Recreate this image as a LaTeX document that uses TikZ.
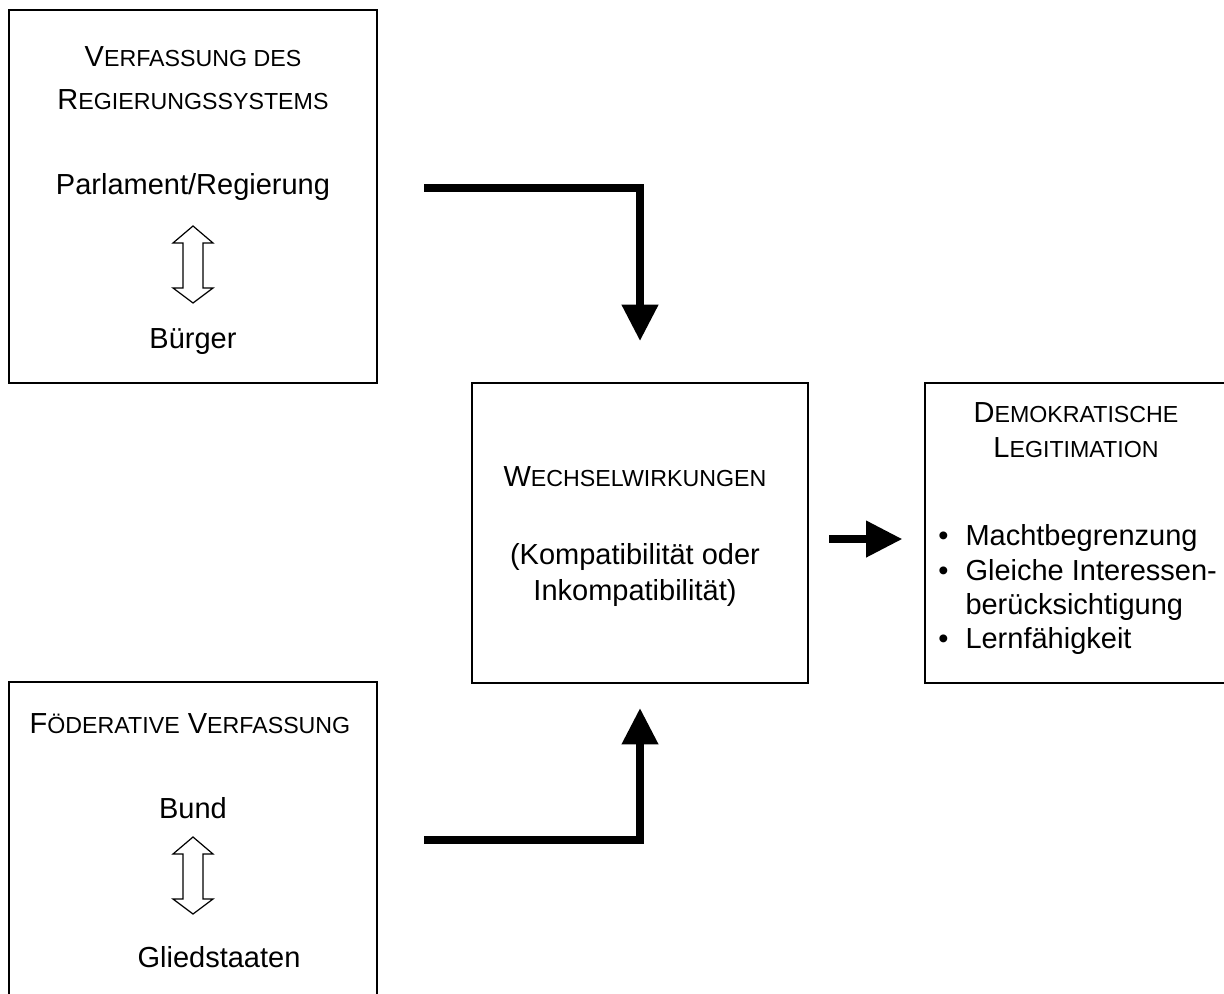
\documentclass[tikz,border=0pt]{standalone}
\usepackage{fontspec}
\setmainfont{Liberation Sans}
\usepackage{tikz}
\usetikzlibrary{arrows.meta, positioning}
\newcommand{\pix}{*0.4138pt}
\newcommand{\kap}[2]{#1{\fontsize{9.6pt}{11pt}\selectfont #2}}

\begin{document}
\begin{tikzpicture}[
    x=0.4138pt, y=-0.4138pt,
    box/.style={draw, line width=0.8pt, inner sep=0pt, minimum width=#1},
    txt/.style={anchor=base, inner sep=0pt, font=\fontsize{12pt}{14pt}\selectfont},
    flow/.style={line width=3pt, -{Triangle[length=15pt, width=14.5pt]}},
    hohl/.style={draw, line width=0.5pt, fill=white},
    doppelpfeil/.pic={
        \path[hohl] (0,0) -- (20,17) -- (10,17) -- (10,62) -- (20,62) -- (0,77)
            -- (-20,62) -- (-10,62) -- (-10,17) -- (-20,17) -- cycle;
    }
]
    \useasboundingbox (0,0) rectangle (1224,994);
    \clip (0,0) rectangle (1224,994);

    % Kästen
    \node[box=368\pix, minimum height=373\pix] (regierung) at (193,196.5) {};
    \node[box=368\pix, minimum height=380\pix] (foederal) at (193,872) {};
    \node[box=336\pix, minimum height=300\pix] (zentrum) at (640,533) {};
    \node[box=303\pix, minimum height=300\pix] (legit) at (1076.5,533) {};

    % Regierungssystem
    \node[txt] (r1) at (193,67) {\kap{V}{ERFASSUNG DES}};
    \node[txt] (r2) at (193,110) {\kap{R}{EGIERUNGSSYSTEMS}};
    \node[txt] (parl) at (193,195) {Parlament/Regierung};
    \pic at (193,226) {doppelpfeil};
    \node[txt] (buerger) at (193,349) {Bürger};

    % Föderative Verfassung
    \node[txt] (f1) at (190,733) {\kap{F}{ÖDERATIVE} \kap{V}{ERFASSUNG}};
    \node[txt] (bund) at (193,818) {Bund};
    \pic at (193,837) {doppelpfeil};
    \node[txt] (glied) at (219,967) {Gliedstaaten};

    % Wechselwirkungen
    \node[txt] (w1) at (635,487) {\kap{W}{ECHSELWIRKUNGEN}};
    \node[txt] (w2) at (635,564) {(Kompatibilität oder};
    \node[txt] (w3) at (635,600) {Inkompatibilität)};

    % Legitimation
    \node[txt] (l1) at (1076,423) {\kap{D}{EMOKRATISCHE}};
    \node[txt] (l2) at (1076,458) {\kap{L}{EGITIMATION}};
    \node[txt, anchor=base west] (p1) at (965,546) {Machtbegrenzung};
    \node[txt, anchor=base west] (p2) at (965,580) {Gleiche Interessen-};
    \node[txt, anchor=base west] (p3) at (965,614) {berücksichtigung};
    \node[txt, anchor=base west] (p4) at (965,648) {Lernfähigkeit};
    \foreach \p in {p1,p2,p4}
        \node[txt, anchor=base east, xshift=-16\pix] (b\p) at (\p.base west) {\textbullet};

    % Pfeile
    \coordinate (von1) at (424,188);
    \coordinate (von2) at (424,840);
    \draw[flow, shorten >=17pt] (von1) -| (zentrum.north);
    \draw[flow, shorten >=10pt] (von2) -| (zentrum.south);
    \draw[flow, shorten <=8.3pt, shorten >=9pt]
        ([yshift=-2.5pt]zentrum.east) -- ([yshift=-2.5pt]legit.west);
\end{tikzpicture}
\end{document}
